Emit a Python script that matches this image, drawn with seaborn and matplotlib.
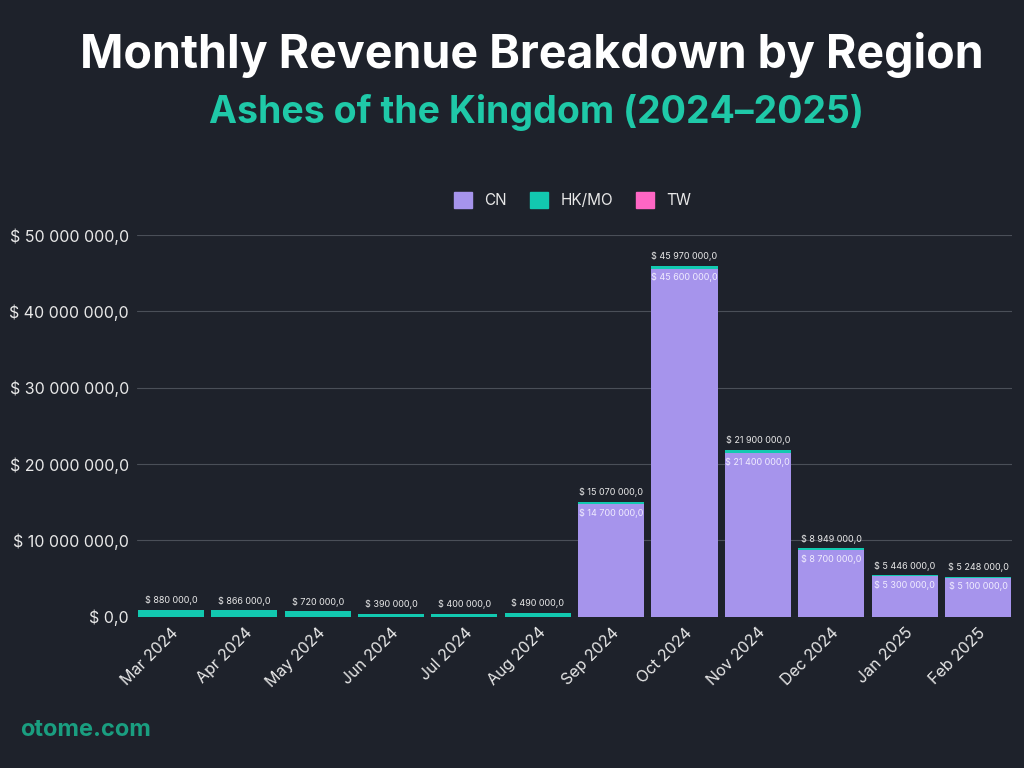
import numpy as np
import pandas as pd
import matplotlib.pyplot as plt
import seaborn as sns
from matplotlib.patches import Patch

months = ["Mar 2024", "Apr 2024", "May 2024", "Jun 2024", "Jul 2024", "Aug 2024",
          "Sep 2024", "Oct 2024", "Nov 2024", "Dec 2024", "Jan 2025", "Feb 2025"]
totals = [880000, 866000, 720000, 390000, 400000, 490000,
          15070000, 45970000, 21900000, 8949000, 5446000, 5248000]
cn = [0, 0, 0, 0, 0, 0,
      14700000, 45600000, 21400000, 8700000, 5300000, 5100000]
tw = [0, 0, 0, 0, 0, 0, 0, 0, 0, 0, 0, 0]
hkmo = [t - c - w for t, c, w in zip(totals, cn, tw)]

BG = "#1e222b"
C_CN = "#a694ec"
C_HK = "#12c9b0"
C_TW = "#ff66c4"

def money(v):
    return "$ " + f"{v:,.1f}".replace(",", " ").replace(".", ",")

sns.set_theme(style="dark")
plt.rcParams['font.family'] = ['Inter', 'DejaVu Sans']

df = pd.DataFrame({"month": months, "CN": cn, "HK/MO": hkmo, "TW": tw})
df["cn_hk"] = df["CN"] + df["HK/MO"]

fig = plt.figure(figsize=(10.24, 7.68), dpi=100, facecolor=BG)
ax = fig.add_axes([0.134, 0.197, 0.854, 0.497])
ax.set_facecolor(BG)

bar_kw = dict(width=0.9, ax=ax, saturation=1, edgecolor="none", linewidth=0)
sns.barplot(data=df, x="month", y="CN", color=C_CN, **bar_kw)
sns.barplot(data=df, x="month", y="HK/MO", bottom=df["CN"], color=C_HK, **bar_kw)
sns.barplot(data=df, x="month", y="TW", bottom=df["cn_hk"], color=C_TW, **bar_kw)

ax.set_xlim(-0.46, 11.46)
ax.set_ylim(0, 50000000)
yt = np.arange(0, 50000001, 10000000)
ax.set_yticks(yt)
ax.set_yticklabels([money(v) for v in yt], color="#e8e8e8", fontsize=11.5)
ax.set_xticks(range(len(months)))
ax.set_xticklabels(months, rotation=45, ha="right", rotation_mode="anchor", color="#e8e8e8", fontsize=11.5)
ax.set_xlabel("")
ax.set_ylabel("")
ax.grid(axis="y", color="#4a4f58", linewidth=0.8)
ax.set_axisbelow(True)
for s in ax.spines.values():
    s.set_visible(False)
ax.tick_params(axis="both", length=0, pad=6)

for i, (t, c) in enumerate(zip(totals, cn)):
    ax.text(i, t + 600000, money(t), ha="center", va="bottom", color="#e8e8e8", fontsize=6.5)
    if c > 0:
        ax.text(i, c - 500000, money(c), ha="center", va="top", color="#f0ecff", fontsize=6.5)

fig.text(0.519, 0.928, "Monthly Revenue Breakdown by Region", ha="center", va="center",
         color="white", fontsize=33.5, fontweight="bold")
fig.text(0.524, 0.854, "Ashes of the Kingdom (2024–2025)", ha="center", va="center",
         color="#1fc9a8", fontsize=27, fontweight="bold")
fig.text(0.02, 0.05, "otome.com", ha="left", va="center", color="#1a9e80",
         fontsize=17, fontweight="bold")

handles = [Patch(color=C_CN, label="CN"), Patch(color=C_HK, label="HK/MO"), Patch(color=C_TW, label="TW")]
fig.legend(handles=handles, loc="center", bbox_to_anchor=(0.559, 0.739), ncol=3, frameon=False,
           fontsize=11, labelcolor="#e8e8e8", handlelength=1.2, handleheight=1.2, columnspacing=1.5)

fig.savefig("out.png", dpi=100, facecolor=BG)
